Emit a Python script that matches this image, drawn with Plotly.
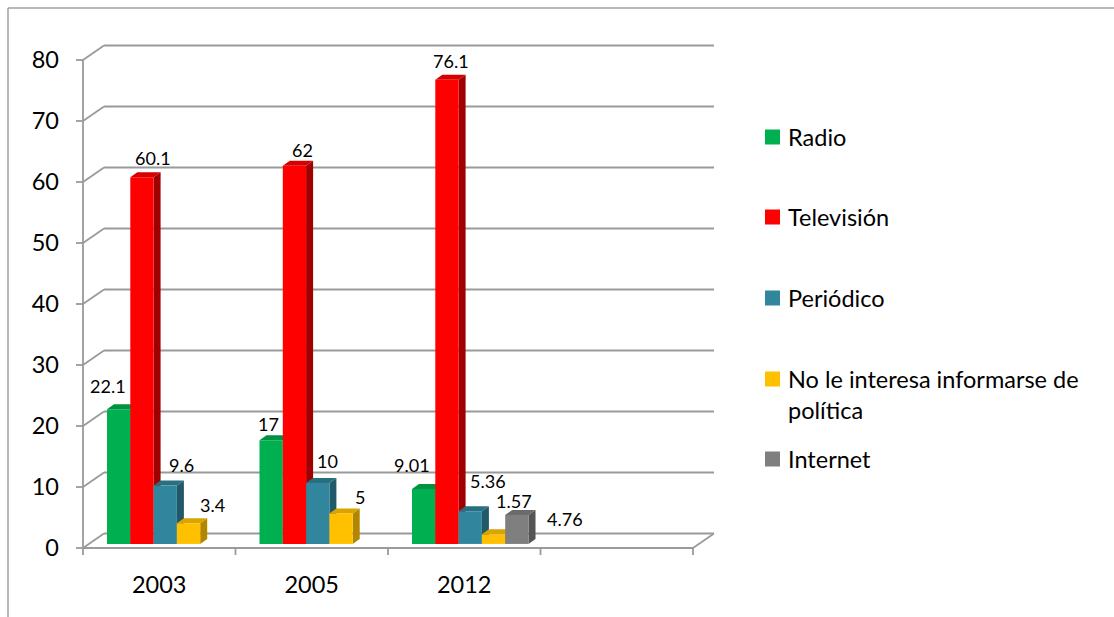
import plotly.graph_objects as go

# ---- data -------------------------------------------------------------
years = ["2003", "2005", "2012"]
radio = [22.1, 17, 9.01]
television = [60.1, 62, 76.1]
periodico = [9.6, 10, 5.36]
no_interesa = [3.4, 5, 1.57]
internet = [None, None, 4.76]
series_names = ["Radio", "Televisión", "Periódico",
                "No le interesa informarse de<br>política", "Internet"]
y_tick_values = [0, 10, 20, 30, 40, 50, 60, 70, 80]

series_values = [radio, television, periodico, no_interesa, internet]

# ---- styling ----------------------------------------------------------
# (front, top, side) face colours per series
palette = [
    ("#00B050", "#00923F", "#007A35"),
    ("#FF0000", "#D60000", "#A00000"),
    ("#31859C", "#296F82", "#21596A"),
    ("#FFC000", "#D9A400", "#B38600"),
    ("#7F7F7F", "#6B6B6B", "#555555"),
]
FONT = "Lato, 'Open Sans', sans-serif"
GRID = "#9a9a9a"
AXIS_FONT_SIZE = 23.5
LEGEND_FONT_SIZE = 23.5
LABEL_FONT_SIZE = 18

# data-label placement, pixels from the top-front centre of each bar
# keyed by (series index, year index): (right, down)
label_offsets = {
    (0, 0): (-10.5, -23), (1, 0): (11.5, -19), (2, 0): (16, -20.4), (3, 0): (24, -18),
    (0, 1): (-3, -16), (1, 1): (8, -16), (2, 1): (10, -21.5), (3, 1): (18.5, -16.5),
    (0, 2): (-11.5, -23.5), (1, 2): (4.5, -18.8), (2, 2): (17.5, -30),
    (3, 2): (20.5, -33), (4, 2): (48.5, 4),
}

# ---- geometry ---------------------------------------------------------
W, H = 1114, 617
PLOT_L, PLOT_R, PLOT_T, PLOT_B = 76, 722, 38, 557
X0_PX, Y0_PX = 83, 548          # front-left corner of the floor
PX_PER_CAT, PX_PER_UNIT = 152.5, 6.1


def ux(px):
    return px / PX_PER_CAT


def uy(px):
    return px / PX_PER_UNIT


def paper_x(px):
    return (px - PLOT_L) / (PLOT_R - PLOT_L)


def paper_y(py):
    return (PLOT_B - py) / (PLOT_B - PLOT_T)


x_range = [-0.5 - ux(X0_PX - PLOT_L), -0.5 + ux(PLOT_R - X0_PX)]
y_range = [-uy(PLOT_B - Y0_PX), uy(Y0_PX - PLOT_T)]

n_cells = len(years) + 1              # one empty slot after the last year
x_left, x_right = -0.5, n_cells - 0.5
WDX, WDY = ux(21), uy(14.5)          # wall depth (oblique offset)
FRONT = 0.28                          # bar front plane, fraction of wall depth
BASE = FRONT * WDY
BAR_W = ux(23.3)
SLOT0 = -ux(52.25)
BDX, BDY = ux(7), uy(5)               # bar depth

positions = list(range(len(years)))

fig = go.Figure()
shapes = []


def line(x0, y0, x1, y1, width=1.8, color=GRID):
    shapes.append(dict(type="line", xref="x", yref="y", x0=x0, y0=y0, x1=x1, y1=y1,
                       line=dict(color=color, width=width), layer="below"))


# back wall gridlines and their left-wall diagonals
for v in y_tick_values:
    line(x_left, v, x_left + WDX, v + WDY)
    line(x_left + WDX, v + WDY, x_right + WDX, v + WDY)
    line(x_left - ux(7), v, x_left, v)            # tick marks
# floor
line(x_left, 0, x_right, 0)
line(x_right, 0, x_right + WDX, WDY)
# front value axis
line(x_left, 0, x_left, y_tick_values[-1])
# category boundary ticks
for k in range(n_cells + 1):
    line(k - 0.5, 0, k - 0.5, -uy(7))

sides, tops = [], []
for s, vals in enumerate(series_values):
    front, top, side = palette[s]
    fig.add_trace(go.Bar(
        x=positions, y=vals, base=BASE, width=BAR_W, offset=SLOT0 + s * BAR_W,
        marker=dict(color=front, line=dict(width=0)),
        name=series_names[s].replace("<br>", " "), showlegend=False,
        hoverinfo="name+y",
    ))
    for i, v in enumerate(vals):
        if v is None:
            continue
        xl = i + SLOT0 + s * BAR_W
        xr = xl + BAR_W
        yb, yt = BASE, BASE + v
        sides.append(dict(
            type="path", xref="x", yref="y", layer="below", line=dict(width=0),
            fillcolor=side,
            path=f"M{xr},{yb} L{xr},{yt} L{xr + BDX},{yt + BDY} L{xr + BDX},{yb + BDY} Z"))
        tops.append(dict(
            type="path", xref="x", yref="y", layer="below", line=dict(width=0),
            fillcolor=top,
            path=f"M{xl},{yt} L{xr},{yt} L{xr + BDX},{yt + BDY} L{xl + BDX},{yt + BDY} Z"))
        dx, dy = label_offsets[(s, i)]
        fig.add_annotation(
            x=xl + BAR_W / 2, y=yt, xref="x", yref="y", text=f"{v:g}",
            showarrow=False, xshift=dx, yshift=-dy, xanchor="center", yanchor="middle",
            font=dict(family=FONT, size=LABEL_FONT_SIZE, color="#000000"))

shapes += sides + tops

# legend
legend_y = [137, 217, 298, 379, 459]
for s, name in enumerate(series_names):
    cy = legend_y[s]
    shapes.append(dict(type="rect", xref="paper", yref="paper",
                       x0=paper_x(765), x1=paper_x(780),
                       y0=paper_y(cy + 7.5), y1=paper_y(cy - 7.5),
                       fillcolor=palette[s][0], line=dict(width=0)))
    fig.add_annotation(x=paper_x(786), y=paper_y(cy - 16), xref="paper", yref="paper",
                       text=name, showarrow=False, xanchor="left", yanchor="top",
                       align="left",
                       font=dict(family=FONT, size=LEGEND_FONT_SIZE, color="#000000"))

# chart frame
shapes.append(dict(type="line", xref="paper", yref="paper",
                   x0=paper_x(8), y0=paper_y(8), x1=paper_x(8), y1=paper_y(H + 5),
                   line=dict(color="#a0a0a0", width=1.5)))
shapes.append(dict(type="line", xref="paper", yref="paper",
                   x0=paper_x(8), y0=paper_y(8), x1=paper_x(W + 5), y1=paper_y(8),
                   line=dict(color="#a0a0a0", width=1.5)))

fig.update_layout(
    width=W, height=H, autosize=False,
    margin=dict(l=PLOT_L, r=W - PLOT_R, t=PLOT_T, b=H - PLOT_B, pad=0),
    paper_bgcolor="white", plot_bgcolor="rgba(0,0,0,0)",
    barmode="overlay", shapes=shapes, showlegend=False,
    font=dict(family=FONT, color="#000000"),
    xaxis=dict(range=x_range, tickvals=positions, ticktext=years, ticks="",
               showgrid=False, zeroline=False, showline=False, fixedrange=True,
               tickfont=dict(family=FONT, size=AXIS_FONT_SIZE, color="#000000"),
               ticklabelstandoff=11),
    yaxis=dict(range=y_range, tickvals=y_tick_values, ticks="",
               showgrid=False, zeroline=False, showline=False, fixedrange=True,
               tickfont=dict(family=FONT, size=AXIS_FONT_SIZE, color="#000000"),
               ticklabelstandoff=16),
)

fig.write_html("out.html")
